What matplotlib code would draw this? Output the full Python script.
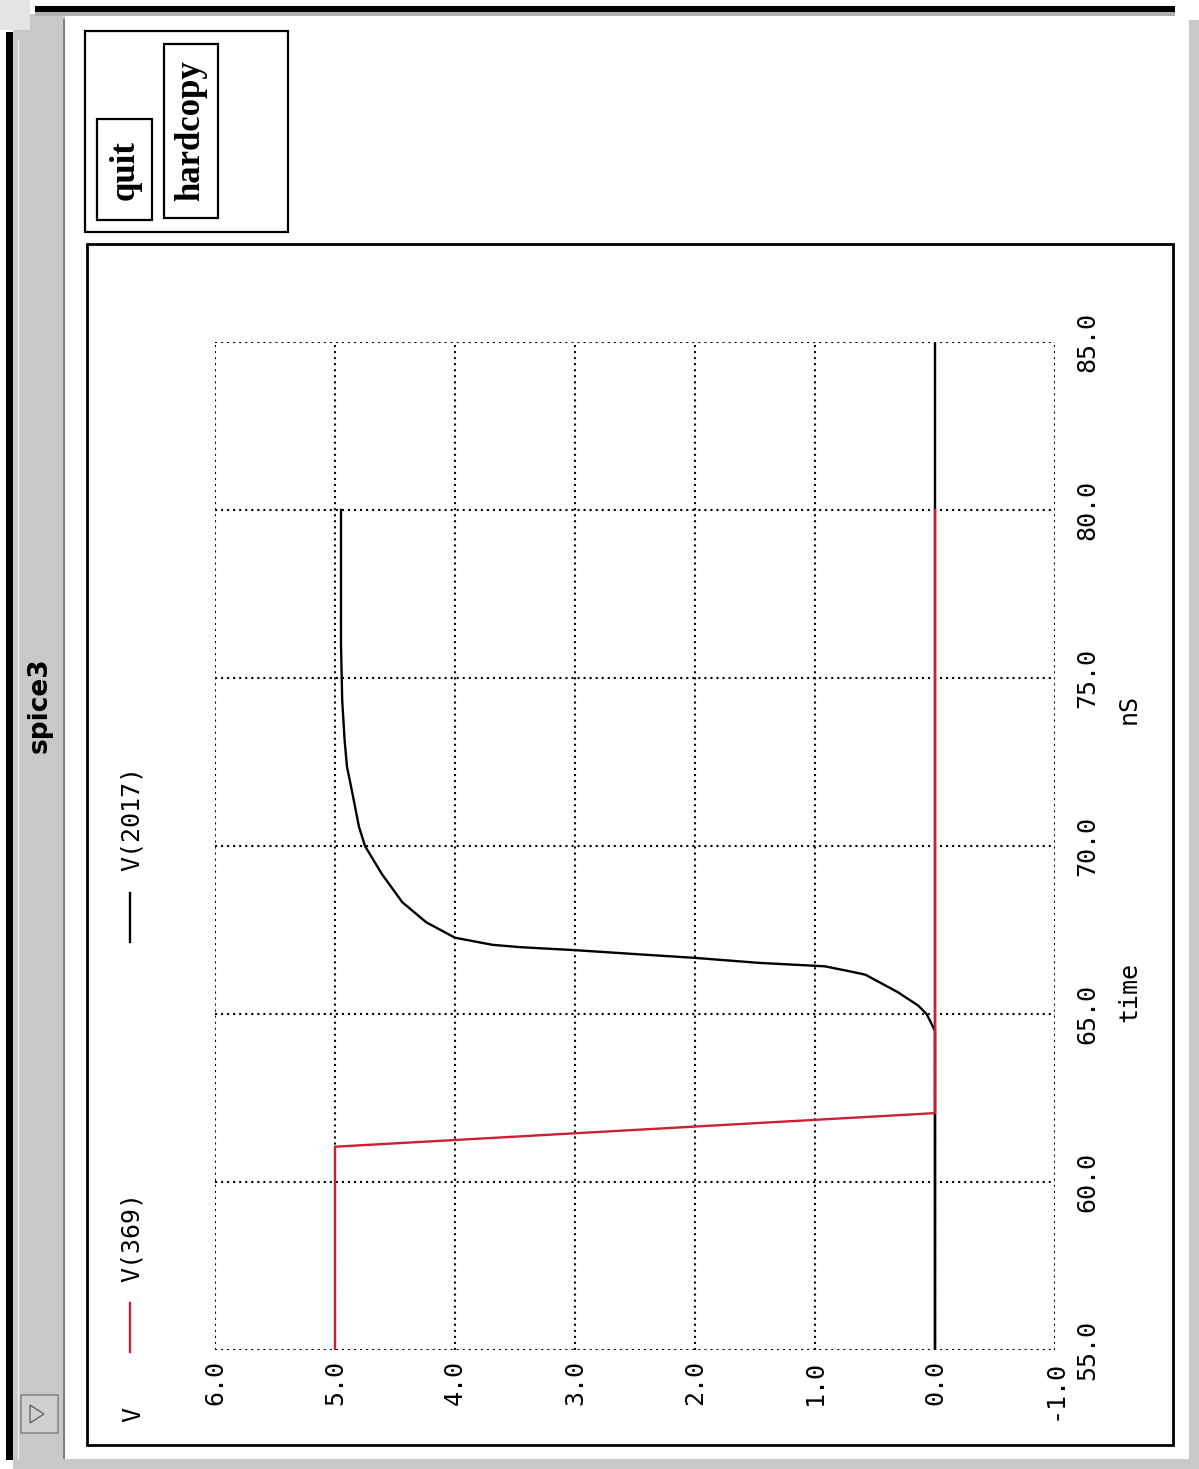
import matplotlib
matplotlib.use("Agg")
import matplotlib.pyplot as plt
from matplotlib.patches import Rectangle, Polygon
from matplotlib.transforms import blended_transform_factory

# V(369): input step, readings (time in nS, volts)
t_369 = [55.0, 61.05, 62.05, 80.0]
v_369 = [5.0, 5.0, 0.0, 0.0]

# V(2017): output rising edge
t_2017 = [55.0, 64.5, 65.0, 65.25, 65.65, 65.9, 66.17, 66.27, 66.42, 66.52,
          66.67, 66.77, 66.9, 66.99, 67.06, 67.27, 67.73, 68.33, 69.17, 70.0,
          70.57, 71.66, 72.36, 73.15, 74.34, 76.0, 78.0, 80.0]
v_2017 = [0.0, 0.0, 0.07, 0.14, 0.31, 0.44, 0.58, 0.71, 0.92, 1.46,
          2.0, 2.44, 3.0, 3.46, 3.69, 4.0, 4.24, 4.44, 4.61, 4.75,
          4.80, 4.86, 4.90, 4.92, 4.94, 4.95, 4.95, 4.95]

v_ticks = [6.0, 5.0, 4.0, 3.0, 2.0, 1.0, 0.0, -1.0]
t_ticks = [55.0, 60.0, 65.0, 70.0, 75.0, 80.0, 85.0]

W, H = 1199, 1469
red = '#cc2035'
mono = 'DejaVu Sans Mono'

fig = plt.figure(figsize=(W / 100, H / 100), dpi=100)
fig.patch.set_facecolor('white')

# window chrome, drawn in pixel coordinates
bg = fig.add_axes([0, 0, 1, 1])
bg.set_xlim(0, W)
bg.set_ylim(H, 0)
bg.axis('off')

gray = '#c8c8c8'
bg.add_patch(Rectangle((0, 0), W, H, facecolor='white', edgecolor='none'))
bg.add_patch(Rectangle((13, 14), 52, 1450, facecolor=gray, edgecolor='none'))
bg.add_patch(Rectangle((0, 0), 30, 30, facecolor='#e4e4e4', edgecolor='none'))
bg.add_patch(Rectangle((6, 32), 7, 1428, facecolor='black', edgecolor='none'))
bg.add_patch(Rectangle((35, 6), 1140, 6, facecolor='black', edgecolor='none'))
bg.add_patch(Rectangle((35, 12), 1140, 4, facecolor='#b0b0b0', edgecolor='none'))
bg.add_patch(Rectangle((1189, 20), 10, 1449, facecolor=gray, edgecolor='none'))
bg.add_patch(Rectangle((13, 1459), 1186, 10, facecolor=gray, edgecolor='none'))
bg.plot([63.5, 63.5], [20, 1458], color='#707070', lw=1.2)
bg.plot([17.5, 17.5], [40, 1458], color='#f0f0f0', lw=1.0)
bg.text(40, 705, 'spice3', rotation=90, ha='center', va='center',
        fontsize=19, fontweight='bold', family='DejaVu Sans')

# menu button at the bottom of the title bar
bg.add_patch(Rectangle((21, 1395), 37, 38, facecolor='#d0d0d0',
                       edgecolor='#888888', lw=1.2))
bg.add_patch(Polygon([(30, 1405), (30, 1423), (44, 1414)], closed=True,
                     facecolor='none', edgecolor='#666666', lw=1.0))

# button panel
bg.add_patch(Rectangle((85, 31), 203, 201, facecolor='none', edgecolor='black', lw=1.6))
bg.add_patch(Rectangle((97, 119), 55, 101, facecolor='none', edgecolor='black', lw=1.6))
bg.add_patch(Rectangle((164, 44), 54, 174, facecolor='none', edgecolor='black', lw=1.6))
bg.text(125, 170, 'quit', rotation=90, ha='center', va='center',
        fontsize=25, fontweight='bold', family='Liberation Serif')
bg.text(191, 131, 'hardcopy', rotation=90, ha='center', va='center',
        fontsize=25, fontweight='bold', family='Liberation Serif')

# plot frame
bg.add_patch(Rectangle((87, 244), 1086, 1201, facecolor='none', edgecolor='black', lw=2.0))

# axis names and legend
bg.text(133, 1415, 'V', rotation=90, ha='center', va='center', fontsize=18, family=mono)
bg.text(1129, 992, 'time', rotation=90, ha='center', va='center', fontsize=18, family=mono)
bg.text(1129, 709, 'nS', rotation=90, ha='center', va='center', fontsize=18, family=mono)
bg.text(132, 1237, 'V(369)', rotation=90, ha='center', va='center', fontsize=18, family=mono)
bg.text(132, 818, 'V(2017)', rotation=90, ha='center', va='center', fontsize=18, family=mono)
bg.plot([130, 130], [1303, 1352], color=red, lw=1.7)
bg.plot([130, 130], [893, 942], color='black', lw=1.7)

# data axes: voltage runs right-to-left, time bottom-to-top
ax = fig.add_axes([215 / W, 1 - 1350 / H, (1055 - 215) / W, (1350 - 342) / H])
ax.patch.set_alpha(0)
ax.set_xlim(v_ticks[0], v_ticks[-1])
ax.set_ylim(t_ticks[0], t_ticks[-1])
for s in ax.spines.values():
    s.set_visible(False)
ax.set_xticks([])
ax.set_yticks([])

dots = (0, (1, 1.9))
for v in v_ticks:
    ax.axvline(v, color='black', lw=1.5, linestyle=dots, zorder=1)
for t in t_ticks:
    ax.axhline(t, color='black', lw=1.5, linestyle=dots, zorder=1)

ax.axvline(0.0, color='black', lw=1.7, zorder=2)
ax.plot(v_2017, t_2017, color='black', lw=1.7, zorder=3)
ax.plot(v_369, t_369, color=red, lw=1.7, zorder=4)

xt = blended_transform_factory(ax.transData, ax.transAxes)
for v in v_ticks:
    ax.text(v, -10 / 1008, f'{v:.1f}', rotation=90, ha='center', va='top',
            fontsize=18, family=mono, transform=xt, clip_on=False)
yt = blended_transform_factory(ax.transAxes, ax.transData)
for t in t_ticks:
    ax.text(1 + 32 / 840, t, f'{t:.1f}', rotation=90, ha='center', va='center',
            fontsize=18, family=mono, transform=yt, clip_on=False)

fig.savefig('out.png', dpi=100)
plt.close(fig)
